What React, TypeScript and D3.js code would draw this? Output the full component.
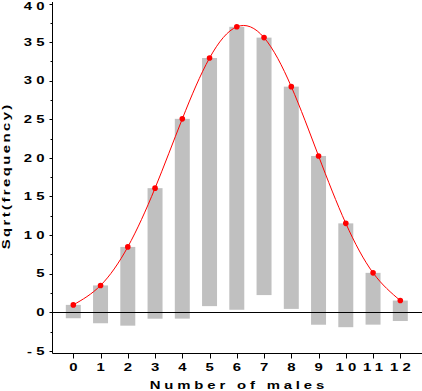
import React from 'react'
import * as d3 from 'd3'

// number of males in families of 12 children
const males = [0, 1, 2, 3, 4, 5, 6, 7, 8, 9, 10, 11, 12]
// sqrt of fitted binomial frequency (red points / curve)
const fittedSqrt = [0.96, 3.48, 8.47, 16.08, 25.06, 32.94, 36.98, 35.58, 29.23, 20.25, 11.52, 5.11, 1.52]
// sqrt of observed frequency (bar lengths, hanging from the curve)
const observedSqrt = [1.73, 4.9, 10.2, 16.91, 25.88, 32.14, 36.65, 33.35, 28.79, 21.86, 13.45, 6.71, 2.65]
const yMajor = [-5, 0, 5, 10, 15, 20, 25, 30, 35, 40]
const yMinor = [-2.5, 2.5, 7.5, 12.5, 17.5, 22.5, 27.5, 32.5, 37.5]

const W = 422
const H = 391
const FONT = '"Liberation Sans", Arial, sans-serif'
const SX = 1.42

function Label({ x, y, text, anchor = 'middle', ls = 3, rotate = 0 }: {
  x: number; y: number; text: string; anchor?: string; ls?: number; rotate?: number
}) {
  // wide SAS-like lettering: stretch glyphs horizontally
  const shift = anchor === 'end' ? ls * SX : anchor === 'middle' ? (ls * SX) / 2 : 0
  const tr = rotate
    ? `translate(${x},${y}) rotate(${rotate}) translate(${shift},0) scale(${SX},1)`
    : `translate(${x + shift},${y}) scale(${SX},1)`
  return (
    <text transform={tr} textAnchor={anchor} fontFamily={FONT} fontWeight="bold"
      fontSize={10.5} letterSpacing={ls} fill="#000">
      {text}
    </text>
  )
}

export default function App() {
  const x = d3.scaleLinear().domain([0, 12]).range([73.3, 400.3])
  const y = d3.scaleLinear().domain([-5, 40]).range([350.9, 3.5])
  const left = 52.5
  const bottom = 353.5
  const barW = (x(1) - x(0)) * 0.55

  const curve = d3.line<number>()
    .x((_, i) => x(males[i]))
    .y(d => y(d))
    .curve(d3.curveNatural)

  return (
    <svg width={W} height={H} style={{ position: 'absolute', left: 0, top: 0, background: '#fff' }}>
      {/* hanging bars */}
      {males.map((m, i) => {
        const top = y(fittedSqrt[i])
        const bot = y(fittedSqrt[i] - observedSqrt[i])
        return <rect key={m} x={x(m) - barW / 2} y={top} width={barW} height={bot - top} fill="#c0c0c0" />
      })}

      {/* zero reference */}
      <line x1={left} x2={W} y1={Math.round(y(0)) + 0.5} y2={Math.round(y(0)) + 0.5} stroke="#000" strokeWidth={1} />

      {/* fitted curve */}
      <path d={curve(fittedSqrt) || ''} fill="none" stroke="#ff0000" strokeWidth={1} />
      {males.map((m, i) => (
        <circle key={m} cx={x(m)} cy={y(fittedSqrt[i])} r={2.8} fill="#ff0000" />
      ))}

      {/* axes */}
      <line x1={left} x2={left} y1={2} y2={bottom} stroke="#000" />
      <line x1={left} x2={W} y1={bottom} y2={bottom} stroke="#000" />
      {yMajor.map(t => (
        <g key={t}>
          <line x1={left - 3} x2={left} y1={Math.round(y(t)) + 0.5} y2={Math.round(y(t)) + 0.5} stroke="#000" />
          <Label x={44.5} y={Math.max(y(t) + 3.7, 10)} text={String(t)} anchor="end" />
        </g>
      ))}
      {yMinor.map(t => (
        <line key={t} x1={left - 2} x2={left} y1={Math.round(y(t)) + 0.5} y2={Math.round(y(t)) + 0.5} stroke="#000" />
      ))}
      {males.map(m => (
        <g key={m}>
          <line x1={Math.round(x(m)) + 0.5} x2={Math.round(x(m)) + 0.5} y1={bottom} y2={bottom + 5} stroke="#000" />
          <Label x={x(m)} y={371} text={String(m)} />
        </g>
      ))}

      <Label x={237} y={388.5} text="Number of males" ls={2.7} />
      <Label x={9.5} y={177} text="Sqrt(frequency)" ls={1.7} rotate={-90} />
    </svg>
  )
}
